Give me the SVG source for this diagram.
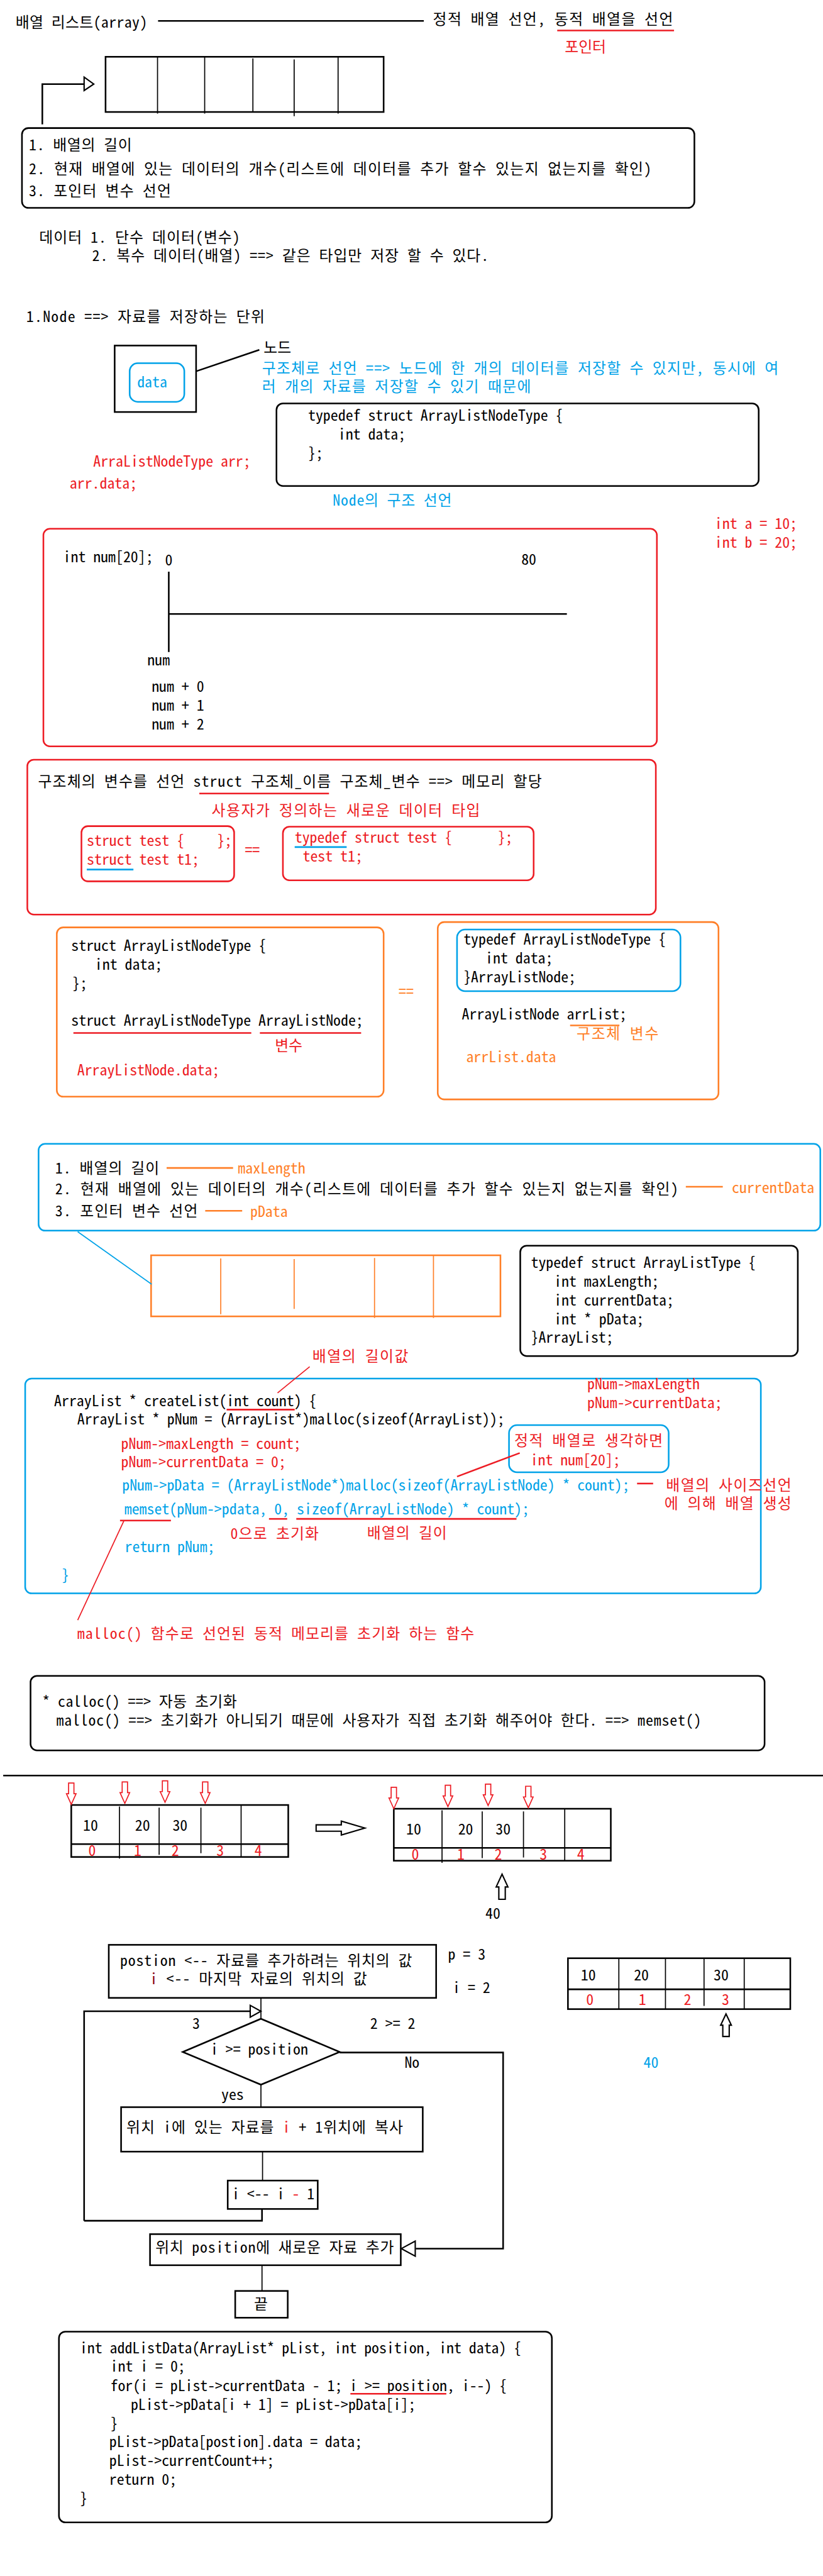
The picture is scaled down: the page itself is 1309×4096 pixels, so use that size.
<svg xmlns="http://www.w3.org/2000/svg" width="1309" height="4096" viewBox="0 0 1309 4096">
<style>
text{font-family:'Noto Sans Mono CJK KR','Noto Sans CJK KR',monospace;font-size:28px;fill:#000}
.r{fill:#ed1c24}.b{fill:#00a2e8}.o{fill:#ff7f27}
.k3{fill:none;stroke:#000;stroke-width:3}
.k2{fill:none;stroke:#000;stroke-width:2}
.r3{fill:none;stroke:#ed1c24;stroke-width:3}
.r2{fill:none;stroke:#ed1c24;stroke-width:2}
.b3{fill:none;stroke:#00a2e8;stroke-width:3}
.b2{fill:none;stroke:#00a2e8;stroke-width:2}
.o3{fill:none;stroke:#ff7f27;stroke-width:3}
.hk{fill:#fff;stroke:#000;stroke-width:2.5}
.hr{fill:#fff;stroke:#ed1c24;stroke-width:2}
</style>
<defs>
<path id="darr" d="M-5,0 L5,0 L5,20 L9,20 L0,40 L-9,20 L-5,20 Z"/>
</defs>
<rect width="1309" height="4096" fill="#fff"/>
<g transform="scale(0.8522,0.8519)">

<g id="title">
<text x="29" y="52" textLength="246">배열 리스트(array)</text>
<text x="808" y="46" textLength="448">정적 배열 선언, 동적 배열을 선언</text>
<text x="1054" y="97" class="r">포인터</text>
</g>

<g id="array1">
<rect x="197" y="106" width="519" height="103" class="k3"/>
<line x1="294" y1="106" x2="294" y2="212" class="k2"/>
<line x1="382" y1="106" x2="382" y2="212" class="k2"/>
<line x1="472" y1="109" x2="472" y2="209" class="k2"/>
<line x1="549" y1="111" x2="549" y2="217" class="k2"/>
<line x1="631" y1="106" x2="631" y2="212" class="k2"/>
</g>

<g id="info1">
<rect x="41" y="239" width="1255" height="149" rx="12" class="k3"/>
<text x="54" y="281" textLength="192">1. 배열의 길이</text>
<text x="54" y="325" textLength="1162">2. 현재 배열에 있는 데이터의 개수(리스트에 데이터를 추가 할수 있는지 없는지를 확인)</text>
<text x="54" y="366" textLength="265">3. 포인터 변수 선언</text>
</g>

<g id="datatypes">
<text x="73" y="453" textLength="375">데이터 1. 단수 데이터(변수)</text>
<text x="172" y="487" textLength="740">2. 복수 데이터(배열) ==&gt; 같은 타입만 저장 할 수 있다.</text>
<text x="49" y="601" textLength="445">1.Node  ==&gt; 자료를 저장하는 단위</text>
</g>

<g id="nodebox">
<rect x="214" y="645" width="152" height="124" class="k3"/>
<rect x="242" y="678" width="102" height="72" rx="15" class="b3"/>
<text x="256" y="723" class="b">data</text>
</g>

<g id="nodelabel">
<text x="492" y="659">노드</text>
<text x="489" y="697" class="b" textLength="964">구조체로 선언 ==&gt; 노드에 한 개의 데이터를 저장할 수 있지만, 동시에 여</text>
<text x="489" y="731" class="b" textLength="502">러 개의 자료를 저장할 수 있기 때문에</text>
</g>

<g id="typedef1">
<rect x="516" y="753" width="900" height="154" rx="12" class="k3"/>
<text x="575" y="785">typedef struct ArrayListNodeType {</text>
<text x="631" y="821">int data;</text>
<text x="575" y="856">};</text>
</g>

<g id="notes1">
<text x="174" y="871" class="r">ArraListNodeType arr;</text>
<text x="130" y="912" class="r">arr.data;</text>
<text x="621" y="944" class="b" textLength="222">Node의 구조 선언</text>
<text x="1334" y="987" class="r">int a = 10;</text>
<text x="1334" y="1022" class="r">int b = 20;</text>
</g>

<g id="numbox">
<rect x="81" y="987" width="1145" height="406" rx="12" class="r3"/>
<text x="118" y="1049">int num[20];</text>
<text x="308" y="1055">0</text>
<text x="973" y="1054">80</text>
<line x1="315" y1="1067" x2="315" y2="1217" class="k3"/>
<line x1="315" y1="1146" x2="1058" y2="1146" class="k3"/>
<text x="275" y="1242">num</text>
<text x="283" y="1291">num + 0</text>
<text x="283" y="1326">num + 1</text>
<text x="283" y="1362">num + 2</text>
</g>

<g id="structbox">
<rect x="51" y="1418" width="1173" height="289" rx="12" class="r3"/>
<text x="71" y="1469" textLength="940">구조체의 변수를 선언 struct 구조체_이름 구조체_변수 ==&gt; 메모리 할당</text>
<line x1="372" y1="1481" x2="614" y2="1481" class="r3"/>
<text x="395" y="1522" class="r" textLength="501">사용자가 정의하는 새로운 데이터 타입</text>
<text x="457" y="1597" class="r">==</text>
</g>

<g id="structtest">
<rect x="152" y="1542" width="285" height="103" rx="12" class="r3"/>
<text x="162" y="1579" class="r">struct test {</text>
<text x="405" y="1579" class="r">};</text>
<text x="162" y="1614" class="r">struct test t1;</text>
<line x1="162" y1="1623" x2="249" y2="1623" class="b3"/>
</g>

<g id="typedeftest">
<rect x="528" y="1543" width="468" height="100" rx="12" class="r3"/>
<text x="550" y="1573" class="r">typedef struct test {</text>
<text x="929" y="1573" class="r">};</text>
<line x1="550" y1="1581" x2="647" y2="1581" class="b3"/>
<text x="565" y="1608" class="r">test t1;</text>
</g>

<g id="structleft">
<rect x="106" y="1731" width="610" height="316" rx="12" class="o3"/>
<text x="133" y="1775">struct ArrayListNodeType {</text>
<text x="177" y="1810">int data;</text>
<text x="135" y="1845">};</text>
<text x="133" y="1915" textLength="545">struct ArrayListNodeType ArrayListNode;</text>
<line x1="137" y1="1928" x2="469" y2="1928" class="r3"/>
<line x1="485" y1="1928" x2="674" y2="1928" class="r3"/>
<text x="513" y="1961" class="r">변수</text>
<text x="144" y="2007" class="r">ArrayListNode.data;</text>
</g>

<text x="744" y="1860" class="o">==</text>

<g id="structright">
<rect x="817" y="1721" width="524" height="331" rx="12" class="o3"/>
<rect x="853" y="1735" width="417" height="115" rx="15" class="b3"/>
<text x="865" y="1763">typedef ArrayListNodeType {</text>
<text x="906" y="1798">int data;</text>
<text x="865" y="1833">}ArrayListNode;</text>
<text x="862" y="1903">ArrayListNode arrList;</text>
<line x1="1064" y1="1914" x2="1156" y2="1914" class="o3"/>
<text x="1076" y="1939" class="o" textLength="153">구조체 변수</text>
<text x="870" y="1983" class="o">arrList.data</text>
</g>

<g id="info2">
<rect x="72" y="2135" width="1459" height="162" rx="12" class="b3"/>
<text x="103" y="2191" textLength="194">1. 배열의 길이</text>
<text x="444" y="2190" class="o">maxLength</text>
<text x="103" y="2229" textLength="1163">2. 현재 배열에 있는 데이터의 개수(리스트에 데이터를 추가 할수 있는지 없는지를 확인)</text>
<text x="1366" y="2227" class="o">currentData</text>
<text x="103" y="2270" textLength="266">3. 포인터 변수 선언</text>
<text x="467" y="2271" class="o">pData</text>
</g>

<g id="array2">
<rect x="282" y="2343" width="652" height="114" fill="none" stroke="#ff7f27" stroke-width="3"/>
<line x1="412" y1="2349" x2="412" y2="2453" stroke="#ff7f27" stroke-width="2"/>
<line x1="549" y1="2350" x2="549" y2="2443" stroke="#ff7f27" stroke-width="2"/>
<line x1="699" y1="2348" x2="699" y2="2460" stroke="#ff7f27" stroke-width="2"/>
<line x1="809" y1="2343" x2="809" y2="2460" stroke="#ff7f27" stroke-width="2"/>
</g>

<g id="arraylisttype">
<rect x="971" y="2325" width="518" height="206" rx="12" class="k3"/>
<text x="991" y="2367">typedef struct ArrayListType {</text>
<text x="1034" y="2402">int maxLength;</text>
<text x="1034" y="2437">int currentData;</text>
<text x="1034" y="2472">int * pData;</text>
<text x="991" y="2506">}ArrayList;</text>
</g>

<text x="583" y="2541" class="r" textLength="179">배열의 길이값</text>

<g id="createlist">
<rect x="47" y="2573" width="1373" height="401" rx="12" class="b3"/>
<text x="1096" y="2593" class="r">pNum-&gt;maxLength</text>
<text x="1096" y="2628" class="r">pNum-&gt;currentData;</text>
<text x="101" y="2625">ArrayList * createList(int count) {</text>
<line x1="423" y1="2631" x2="550" y2="2631" class="r3"/>
<text x="144" y="2659" textLength="798">ArrayList * pNum = (ArrayList*)malloc(sizeof(ArrayList));</text>
<text x="226" y="2704" class="r">pNum-&gt;maxLength = count;</text>
<text x="226" y="2739" class="r">pNum-&gt;currentData = 0;</text>
<text x="228" y="2782" class="b" textLength="947">pNum-&gt;pData = (ArrayListNode*)malloc(sizeof(ArrayListNode) * count);</text>
<text x="232" y="2827" class="b" textLength="756">memset(pNum-&gt;pdata, 0, sizeof(ArrayListNode) * count);</text>
<line x1="224" y1="2838" x2="319" y2="2838" class="r3"/>
<line x1="502" y1="2835" x2="536" y2="2835" class="r3"/>
<line x1="553" y1="2835" x2="964" y2="2835" class="r3"/>
<text x="430" y="2872" class="r" textLength="165">0으로 초기화</text>
<text x="685" y="2871" class="r" textLength="149">배열의 길이</text>
<text x="233" y="2897" class="b">return pNum;</text>
<text x="115" y="2950" class="b">}</text>
</g>

<g id="staticnote">
<rect x="950" y="2660" width="298" height="88" rx="15" class="b3"/>
<text x="960" y="2699" class="r" textLength="277">정적 배열로 생각하면</text>
<text x="990" y="2735" class="r">int num[20];</text>
</g>

<g id="sizenote">
<text x="1243" y="2782" class="r" textLength="234">배열의 사이즈선언</text>
<text x="1240" y="2816" class="r" textLength="237">에 의해 배열 생성</text>
</g>

<text x="144" y="3059" class="r" textLength="741">malloc() 함수로 선언된 동적 메모리를 초기화 하는 함수</text>

<g id="callocbox">
<rect x="57" y="3128" width="1370" height="139" rx="12" class="k3"/>
<text x="79" y="3186" textLength="363">* calloc() ==&gt; 자동 초기화</text>
<text x="105" y="3221" textLength="1204">malloc() ==&gt; 초기화가 아니되기 때문에 사용자가 직접 초기화 해주어야 한다. ==&gt; memset()</text>
</g>

<line x1="6" y1="3314" x2="1536" y2="3314" class="k3"/>

<g id="array3">
<rect x="133" y="3369" width="405" height="97" class="k3"/>
<line x1="133" y1="3442" x2="538" y2="3442" class="k3"/>
<line x1="223" y1="3372" x2="223" y2="3469" class="k2"/>
<line x1="297" y1="3374" x2="297" y2="3462" class="k2"/>
<line x1="375" y1="3374" x2="375" y2="3459" class="k2"/>
<line x1="450" y1="3369" x2="450" y2="3466" class="k2"/>
<text x="155" y="3417">10</text>
<text x="252" y="3417">20</text>
<text x="322" y="3417">30</text>
<text x="165" y="3464" class="r">0</text>
<text x="250" y="3464" class="r">1</text>
<text x="320" y="3464" class="r">2</text>
<text x="404" y="3464" class="r">3</text>
<text x="475" y="3464" class="r">4</text>
<use href="#darr" x="133" y="3328" class="hr"/>
<use href="#darr" x="233" y="3326" class="hr"/>
<use href="#darr" x="308" y="3324" class="hr"/>
<use href="#darr" x="383" y="3326" class="hr"/>
</g>

<path d="M590,3406 L637,3406 L637,3399 L681,3412 L637,3425 L637,3418 L590,3418 Z" class="hk"/>

<g id="array4">
<rect x="735" y="3376" width="405" height="97" class="k3"/>
<line x1="735" y1="3449" x2="1140" y2="3449" class="k3"/>
<line x1="825" y1="3379" x2="825" y2="3477" class="k2"/>
<line x1="900" y1="3381" x2="900" y2="3468" class="k2"/>
<line x1="977" y1="3381" x2="977" y2="3467" class="k2"/>
<line x1="1054" y1="3376" x2="1054" y2="3473" class="k2"/>
<text x="758" y="3424">10</text>
<text x="855" y="3424">20</text>
<text x="925" y="3424">30</text>
<text x="768" y="3471" class="r">0</text>
<text x="853" y="3471" class="r">1</text>
<text x="923" y="3471" class="r">2</text>
<text x="1007" y="3471" class="r">3</text>
<text x="1077" y="3471" class="r">4</text>
<use href="#darr" x="735" y="3336" class="hr"/>
<use href="#darr" x="836" y="3332" class="hr"/>
<use href="#darr" x="911" y="3330" class="hr"/>
<use href="#darr" x="986" y="3334" class="hr"/>
<path d="M937,3498 L948,3522 L943,3522 L943,3545 L931,3545 L931,3522 L926,3522 Z" class="hk"/>
<text x="906" y="3582">40</text>
</g>

<g id="fc-init">
<rect x="203" y="3630" width="611" height="99" class="k3"/>
<text x="224" y="3669" textLength="545">postion &lt;-- 자료를 추가하려는 위치의 값</text>
<text x="280" y="3704" textLength="405"><tspan fill="#880015">i</tspan> &lt;-- 마지막 자료의 위치의 값</text>
</g>
<g id="fc-vars">
<text x="836" y="3658">p = 3</text>
<text x="845" y="3720">i = 2</text>
<text x="359" y="3787">3</text>
<text x="691" y="3787">2 &gt;= 2</text>
</g>

<g id="fc-cond">
<polygon points="487,3768 634,3830 487,3891 341,3830" class="k3"/>
<text x="393" y="3835">i &gt;= position</text>
</g>

<g id="fc-copy">
<rect x="226" y="3933" width="563" height="83" class="k3"/>
<text x="236" y="3981" textLength="516">위치 i에 있는 자료를 <tspan class="r">i</tspan> + 1위치에 복사</text>
</g>

<g id="fc-dec">
<rect x="425" y="4070" width="168" height="53" class="k3"/>
<text x="433" y="4105">i &lt;-- i <tspan class="r">-</tspan> 1</text>
</g>

<g id="fc-add">
<rect x="280" y="4170" width="468" height="58" class="k3"/>
<text x="290" y="4205" textLength="445">위치 position에 새로운 자료 추가</text>
</g>

<g id="fc-end">
<rect x="439" y="4276" width="98" height="50" class="k3"/>
<text x="474" y="4310">끝</text>
</g>

<g id="array5">
<rect x="1060" y="3655" width="415" height="95" class="k3"/>
<line x1="1060" y1="3713" x2="1475" y2="3713" class="k3"/>
<line x1="1155" y1="3655" x2="1155" y2="3750" class="k2"/>
<line x1="1242" y1="3655" x2="1242" y2="3750" class="k2"/>
<line x1="1314" y1="3655" x2="1314" y2="3744" class="k2"/>
<line x1="1389" y1="3655" x2="1389" y2="3750" class="k2"/>
<text x="1084" y="3697">10</text>
<text x="1183" y="3697">20</text>
<text x="1332" y="3697">30</text>
<text x="1094" y="3742" class="r">0</text>
<text x="1192" y="3742" class="r">1</text>
<text x="1276" y="3742" class="r">2</text>
<text x="1347" y="3742" class="r">3</text>
<path d="M1355,3759 L1365,3780 L1361,3780 L1361,3801 L1349,3801 L1349,3780 L1345,3780 Z" class="hk"/>
<text x="1201" y="3860" class="b">40</text>
</g>

<g id="code">
<rect x="110" y="4352" width="920" height="356" rx="12" class="k3"/>
<text x="149" y="4393" textLength="824">int addListData(ArrayList* pList, int position, int data) {</text>
<text x="206" y="4427">int i = 0;</text>
<text x="206" y="4463" textLength="740">for(i = pList-&gt;currentData - 1; i &gt;= position, i--) {</text>
<line x1="654" y1="4468" x2="833" y2="4468" class="r3"/>
<text x="244" y="4498" textLength="532">pList-&gt;pData[i + 1] = pList-&gt;pData[i];</text>
<text x="206" y="4533">}</text>
<text x="204" y="4568" textLength="472">pList-&gt;pData[postion].data = data;</text>
<text x="204" y="4603">pList-&gt;currentCount++;</text>
<text x="204" y="4638">return 0;</text>
<text x="149" y="4673">}</text>
</g>

<g id="connectors">
<line x1="295" y1="39" x2="791" y2="39" class="k3"/>
<line x1="1040" y1="57" x2="1258" y2="57" class="r3"/>
<polyline points="79,232 79,157 157,157" class="k3"/>
<polygon points="157,144 175,157 157,169" class="hk"/>
<line x1="366" y1="693" x2="484" y2="653" class="k3"/>
<line x1="311" y1="2180" x2="435" y2="2180" class="o3"/>
<line x1="1280" y1="2215" x2="1349" y2="2215" class="o3"/>
<line x1="383" y1="2260" x2="452" y2="2260" class="o3"/>
<line x1="145" y1="2299" x2="283" y2="2397" class="b2"/>
<line x1="578" y1="2551" x2="518" y2="2600" class="r2"/>
<line x1="970" y1="2712" x2="853" y2="2756" class="r3"/>
<line x1="1189" y1="2769" x2="1219" y2="2769" class="r3"/>
<line x1="231" y1="2839" x2="145" y2="3024" class="r2"/>
<line x1="487" y1="3729" x2="487" y2="3768" class="k2"/>
<polyline points="157,4145 157,3754 470,3754" class="k3"/>
<polygon points="467,3743 487,3754 467,3765" class="hk"/>
<polyline points="634,3831 939,3831 939,4197 776,4197" class="k3"/>
<polygon points="775,4183 749,4197 775,4211" class="hk"/>
<text x="755" y="3860">No</text>
<line x1="487" y1="3891" x2="487" y2="3933" class="k2"/>
<text x="413" y="3920">yes</text>
<line x1="490" y1="4016" x2="490" y2="4070" class="k2"/>
<polyline points="489,4123 489,4145 157,4145" class="k3"/>
<line x1="489" y1="4228" x2="489" y2="4276" class="k2"/>
</g>
</g>
</svg>
